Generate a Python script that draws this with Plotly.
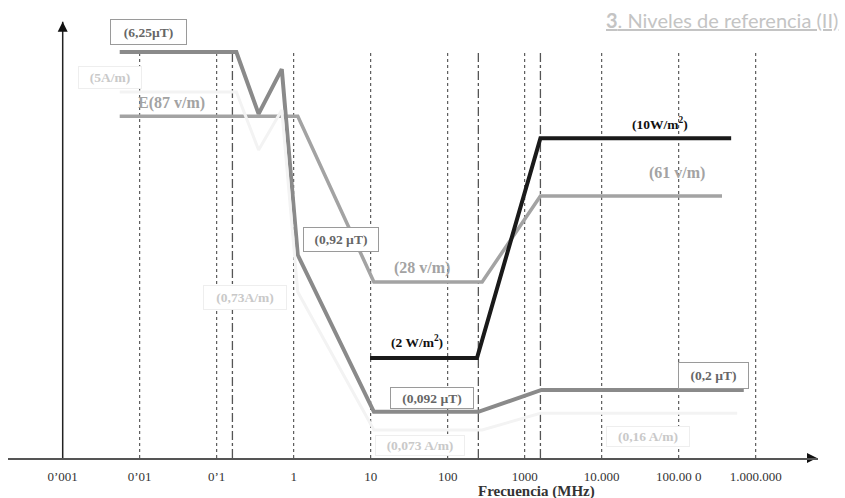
import numpy as np
import plotly.graph_objects as go

# Frequency breakpoints (MHz) and schematic levels of each reference curve
freq_b = [0.0055, 0.18, 0.35, 0.7, 1.13, 11, 250, 1650, 700000]
level_b = [90.6, 90.6, 76.8, 86.8, 45.3, 10.3, 10.3, 15.2, 15.2]

freq_e = [0.0055, 1.13, 11, 280, 1600, 365000]
level_e = [76.3, 76.3, 39.3, 39.3, 58.5, 58.5]

freq_s = [9.8, 240, 1600, 480000]
level_s = [22.3, 22.3, 71.4, 71.4]

freq_h = [0.0055, 0.18, 0.35, 0.7, 1.13, 11, 280, 1600, 575000]
level_h = [81.7, 81.7, 68.75, 77.7, 37.05, 6.25, 6.25, 10.0, 10.0]

tick_vals = [0.001, 0.01, 0.1, 1, 10, 100, 1000, 1e4, 1e5, 1e6]
tick_text = ["0’001", "0’01", "0’1", "1", "10", "100", "1000",
             "10.000", "100.00 0", "1.000.000"]

decade_lines = tick_vals[1:]
band_edges = [0.16, 250, 1600]
guide_top = 90.4

# Curve labels: text, frequency, level, style, box width, box height
labels = [
    ("(6,25µT)", 0.013, 95.1, "box", 73, 22),
    ("(5A/m)", 0.00411, 85.0, "faint", 60, 19),
    ("E(87 v/m)", 0.0255, 79.2, "gray", None, None),
    ("(0,92 µT)", 4.11, 48.8, "box", 72, 21),
    ("(28 v/m)", 46.4, 42.4, "gray", None, None),
    ("(0,73A/m)", 0.233, 35.8, "faint", 80, 21),
    ("(2 W/m<sup>2</sup>)", 39.9, 26.1, "black", None, None),
    ("(0,092 µT)", 62.5, 13.4, "box", 80, 18),
    ("(0,073 A/m)", 43.7, 2.8, "faint", 86, 17),
    ("(0,16 A/m)", 39900, 4.8, "faint", 80, 17),
    ("(0,2 µT)", 283000, 18.4, "box", 67, 23),
    ("(10W/m<sup>2</sup>)", 57200, 74.6, "black", None, None),
    ("(61 v/m)", 95000, 63.6, "gray", None, None),
]

SERIF = "Liberation Serif"

fig = go.Figure()


def vlines(xs, top):
    x, y = [], []
    for v in xs:
        x += [v, v, None]
        y += [0, top, None]
    return x, y


gx, gy = vlines(decade_lines, guide_top)
fig.add_trace(go.Scatter(x=gx, y=gy, mode="lines",
                         line=dict(color="#3a3a3a", width=1, dash="dot"),
                         hoverinfo="skip", showlegend=False))
bx, by = vlines(band_edges, guide_top)
fig.add_trace(go.Scatter(x=bx, y=by, mode="lines",
                         line=dict(color="#555555", width=1.3, dash="dashdot"),
                         hoverinfo="skip", showlegend=False))

# Electric field, magnetic flux, power density, magnetic field
fig.add_trace(go.Scatter(x=freq_e, y=level_e, mode="lines",
                         line=dict(color="#a3a3a3", width=3.5),
                         showlegend=False))
fig.add_trace(go.Scatter(x=freq_b, y=level_b, mode="lines",
                         line=dict(color="#8a8a8a", width=4),
                         showlegend=False))
fig.add_trace(go.Scatter(x=freq_s, y=level_s, mode="lines",
                         line=dict(color="#1a1a1a", width=4),
                         showlegend=False))
fig.add_trace(go.Scatter(x=freq_h, y=level_h, mode="lines",
                         line=dict(color="#f3f3f3", width=3),
                         showlegend=False))

# Axis arrows
fig.add_trace(go.Scatter(x=[0.001, 0.001], y=[0, 97.4], mode="lines",
                         line=dict(color="#222222", width=1.5),
                         hoverinfo="skip", showlegend=False, cliponaxis=False))
fig.add_trace(go.Scatter(x=[0.001], y=[97.4], mode="markers",
                         marker=dict(symbol="arrow-up", size=10, color="#111111"),
                         hoverinfo="skip", showlegend=False, cliponaxis=False))
fig.add_trace(go.Scatter(x=[6.25e6], y=[0], mode="markers",
                         marker=dict(symbol="arrow-right", size=10, color="#111111"),
                         hoverinfo="skip", showlegend=False, cliponaxis=False))

styles = {
    "box": dict(font=dict(family=SERIF, size=13.5, color="#666666"),
                bordercolor="#9a9a9a", borderwidth=1, bgcolor="white"),
    "faint": dict(font=dict(family=SERIF, size=13.5, color="#c9c9c9"),
                  bordercolor="#eeeeee", borderwidth=1, bgcolor="white"),
    "gray": dict(font=dict(family=SERIF, size=16, color="#a3a3a3")),
    "black": dict(font=dict(family=SERIF, size=13.5, color="#111111")),
}

for text, f, lv, st, w, h in labels:
    kw = dict(styles[st])
    if w is not None:
        kw["width"] = w
        kw["height"] = h
    fig.add_annotation(x=np.log10(f), y=lv, xref="x", yref="y",
                       text="<b>" + text + "</b>", showarrow=False,
                       xanchor="center", yanchor="middle", **kw)

fig.add_annotation(xref="paper", yref="paper", x=0.653, y=-0.074,
                   text="<b>Frecuencia (MHz)</b>", showarrow=False,
                   xanchor="center", yanchor="middle",
                   font=dict(family=SERIF, size=15, color="#333333"))

fig.add_annotation(xref="paper", yref="paper", x=1.0272, y=0.978,
                   text="<u><b>3</b>. Niveles de referencia (II)</u>",
                   showarrow=False, xanchor="right", yanchor="middle",
                   font=dict(family="Lato", size=20, color="#c4c4c4"))

fig.update_layout(
    width=845, height=498,
    margin=dict(l=8, r=27, t=10, b=40),
    paper_bgcolor="white", plot_bgcolor="white",
    xaxis=dict(type="log", range=[-3.7104, 6.809],
               tickvals=tick_vals, ticktext=tick_text,
               showgrid=False, zeroline=False,
               showline=True, linecolor="#555555", linewidth=1.5,
               ticks="outside", ticklen=6, tickcolor="rgba(0,0,0,0)",
               tickfont=dict(family=SERIF, size=13, color="#333333")),
    yaxis=dict(range=[0, 100], visible=False),
)

fig.write_html("out.html")
